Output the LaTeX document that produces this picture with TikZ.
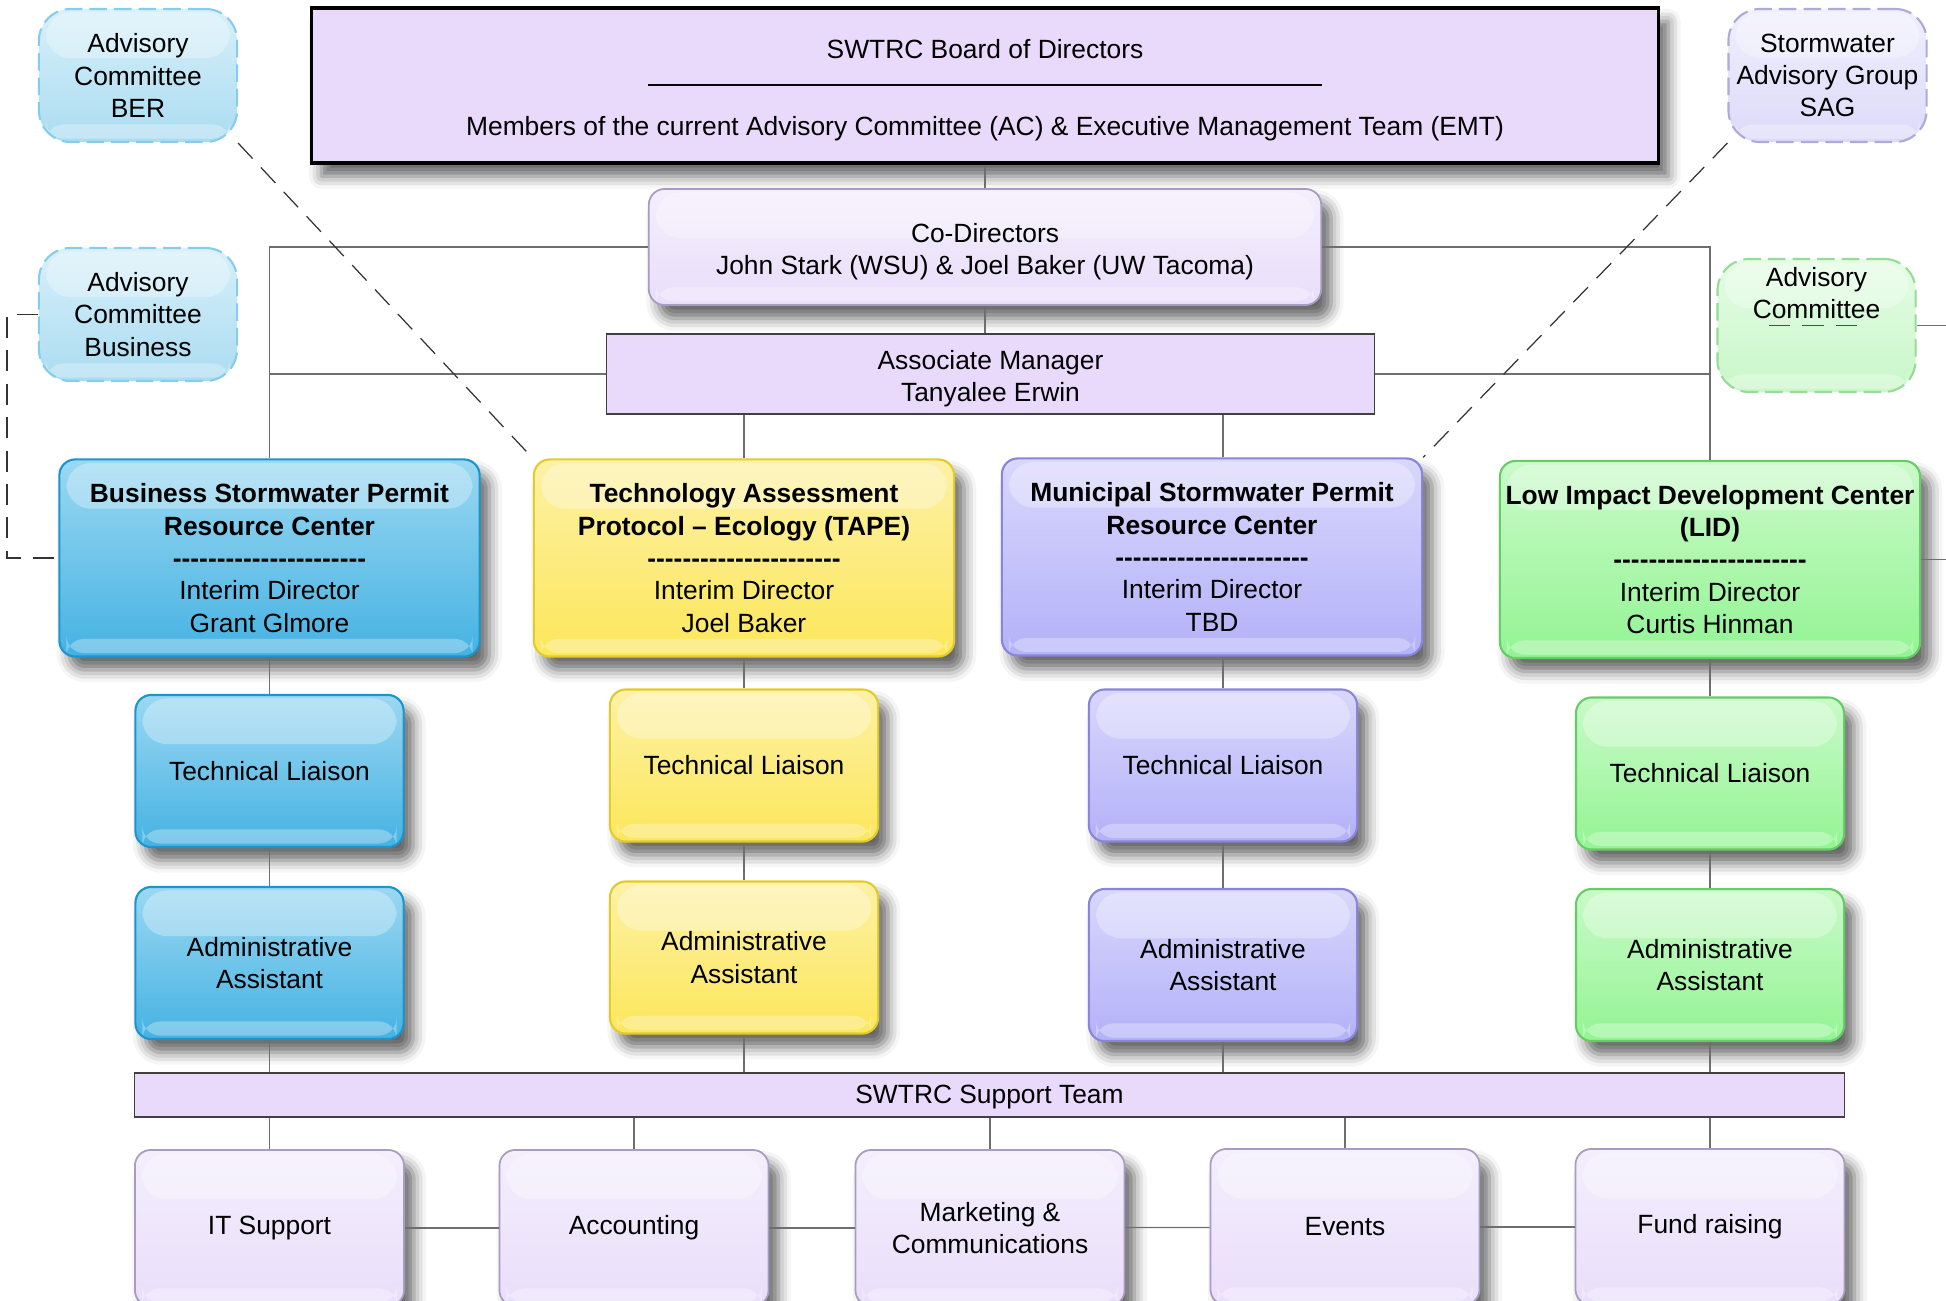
\documentclass[tikz,border=0pt]{standalone}
\usepackage{fontspec}
\setmainfont{Liberation Sans}
\usepackage{tikz}
\usepackage{color}
\usetikzlibrary{shadows.blur}

\definecolor{lav}{HTML}{E9DAFC}
\definecolor{lavtop}{HTML}{F4EEFD}
\definecolor{lavbot}{HTML}{E9DEFA}
\definecolor{lavline}{HTML}{A89CC0}
\definecolor{bluebase}{HTML}{45B2E2}
\definecolor{bluetop}{HTML}{9BD8F2}
\definecolor{blueline}{HTML}{1C95CC}
\definecolor{yelbase}{HTML}{FCE75A}
\definecolor{yeltop}{HTML}{FDF1A6}
\definecolor{yelline}{HTML}{E2CB2C}
\definecolor{purbase}{HTML}{B3B1F8}
\definecolor{purtop}{HTML}{D9D7FC}
\definecolor{purline}{HTML}{8985DC}
\definecolor{grnbase}{HTML}{93F493}
\definecolor{grntop}{HTML}{C9FAC9}
\definecolor{grnline}{HTML}{67CC67}
\definecolor{advblue}{HTML}{AADCF1}
\definecolor{advbluetop}{HTML}{D8F0FA}
\definecolor{advblueline}{HTML}{86CDEB}
\definecolor{advpur}{HTML}{DCDAF9}
\definecolor{advpurtop}{HTML}{F0EFFD}
\definecolor{advpurline}{HTML}{ADAADA}
\definecolor{advgrn}{HTML}{C8F7C8}
\definecolor{advgrntop}{HTML}{E5FCE5}
\definecolor{advgrnline}{HTML}{96DC96}
\definecolor{wire}{HTML}{6E6E6E}

\newcommand{\dashrow}{\textbf{\foreach \k in {1,...,22}{\mbox{-}}}}
\newcommand{\lift}{\rule{0pt}{8.2pt}}

\begin{document}
\begin{tikzpicture}[x=0.01cm,y=-0.01cm,
  every node/.style={font=\fontsize{7.5}{9.2}\selectfont, align=center, inner sep=0pt},
  wire/.style={draw=wire, line width=0.35pt},
  dashwire/.style={draw=black!80, line width=0.35pt, dash pattern=on 6pt off 3.5pt},
  gloss/.style={path picture={
    \fill[white,opacity=.3,rounded corners=7pt] ([xshift=2pt,yshift=-1pt]path picture bounding box.north west) rectangle ([xshift=-2pt,yshift=-14pt]path picture bounding box.north east);
    \fill[white,opacity=.3,rounded corners=5pt] ([xshift=2pt,yshift=5pt]path picture bounding box.south west) rectangle ([xshift=-2pt,yshift=1pt]path picture bounding box.south east);}},
  shade/.style={blur shadow={shadow xshift=2.8pt, shadow yshift=-3.8pt, shadow blur radius=3.5pt, shadow opacity=60}},
  box/.style={rounded corners=4.5pt, line width=0.6pt, shade, gloss},
  bluebox/.style={box, draw=blueline, top color=bluetop, bottom color=bluebase},
  yelbox/.style={box, draw=yelline, top color=yeltop, bottom color=yelbase},
  purbox/.style={box, draw=purline, top color=purtop, bottom color=purbase},
  grnbox/.style={box, draw=grnline, top color=grntop, bottom color=grnbase},
  lavbox/.style={box, line width=0.5pt, draw=lavline, top color=lavtop, bottom color=lavbot},
  advbox/.style={rounded corners=9pt, line width=0.6pt, dash pattern=on 5pt off 2pt, gloss,
    minimum width=1.98cm, minimum height=1.33cm},
  bar/.style={draw=black!75, line width=0.4pt, fill=lav},
  centerbox/.style={minimum width=4.2cm, minimum height=1.97cm},
  smallbox/.style={minimum width=2.68cm, minimum height=1.52cm}]

\useasboundingbox (0,0) rectangle (1946,1301);
\clip (0,0) rectangle (1946,1301);

\node[draw=black, line width=1pt, fill=lav, shade, minimum width=13.46cm, minimum height=1.55cm] (board) at (985,85.5)
  {\lift SWTRC Board of Directors\\[1.75pt]\rule[3.1pt]{6.74cm}{0.6pt}\\[1.75pt]Members of the current Advisory Committee (AC) \& Executive Management Team (EMT)};
\node[lavbox, minimum width=6.72cm, minimum height=1.16cm] (codir) at (985,247) {\lift Co-Directors\\John Stark (WSU) \& Joel Baker (UW Tacoma)};
\node[bar, minimum width=7.67cm, minimum height=0.8cm] (assoc) at (990.5,374) {\lift Associate Manager\\Tanyalee Erwin};

\node[advbox, draw=advblueline, top color=advbluetop, bottom color=advblue] (beradv) at (138,75.5) {Advisory\\Committee\\BER};
\node[advbox, draw=advblueline, top color=advbluetop, bottom color=advblue] (bizadv) at (138,314.5) {Advisory\\Committee\\Business};
\node[advbox, draw=advpurline, top color=advpurtop, bottom color=advpur] (sag) at (1827.5,75.5) {Stormwater\\Advisory Group\\SAG};
\node[advbox, draw=advgrnline, top color=advgrntop, bottom color=advgrn] (lidadv) at (1816.5,325.5) {Advisory\\Committee\\\mbox{}\\\mbox{}};

\node[bluebox, centerbox] (bsp) at (269.5,558) {\textbf{Business Stormwater Permit}\\\textbf{Resource Center}\\\dashrow\\Interim Director\\Grant Glmore};
\node[yelbox, centerbox] (tape) at (744,558) {\textbf{Technology Assessment}\\\textbf{Protocol – Ecology (TAPE)}\\\dashrow\\Interim Director\\Joel Baker};
\node[purbox, centerbox] (msp) at (1212,557) {\textbf{Municipal Stormwater Permit}\\\textbf{Resource Center}\\\dashrow\\Interim Director\\TBD};
\node[grnbox, centerbox] (lid) at (1710,559.5) {\textbf{Low Impact Development Center}\\\textbf{(LID)}\\\dashrow\\Interim Director\\Curtis Hinman};

\node[bluebox, smallbox] (btech) at (269.5,771) {Technical Liaison};
\node[yelbox, smallbox] (ytech) at (744,765.5) {Technical Liaison};
\node[purbox, smallbox] (mtech) at (1223,765.5) {Technical Liaison};
\node[grnbox, smallbox] (gtech) at (1710,773.5) {Technical Liaison};

\node[bluebox, smallbox] (badm) at (269.5,963) {Administrative\\Assistant};
\node[yelbox, smallbox] (yadm) at (744,957.5) {Administrative\\Assistant};
\node[purbox, smallbox] (madm) at (1223,965) {Administrative\\Assistant};
\node[grnbox, smallbox] (gadm) at (1710,965) {Administrative\\Assistant};

\node[bar, minimum width=17.09cm, minimum height=0.44cm] (team) at (989.5,1095) {\rule{0pt}{6.5pt}SWTRC Support Team};

\node[lavbox, minimum width=2.69cm, minimum height=1.56cm] (it) at (269.5,1228) {IT Support};
\node[lavbox, minimum width=2.69cm, minimum height=1.56cm] (acct) at (634,1228) {Accounting};
\node[lavbox, minimum width=2.69cm, minimum height=1.56cm] (mkt) at (990,1228) {Marketing \&\\Communications};
\node[lavbox, minimum width=2.69cm, minimum height=1.56cm] (evt) at (1345,1227) {Events};
\node[lavbox, minimum width=2.69cm, minimum height=1.56cm] (fund) at (1710,1227) {Fund raising};

\draw[wire] (board) -- (codir);
\draw[wire] (codir.south) -- (codir.south |- assoc.north);
\draw[wire] (codir.west) -| (bsp.north);
\draw[wire] (codir.east) -| (lid.north);
\draw[wire] (assoc.west) -- (assoc.west -| bsp.north);
\draw[wire] (assoc.east) -- (assoc.east -| lid.north);
\draw[wire] (assoc.south -| tape.north) -- (tape.north);
\draw[wire] (assoc.south -| mtech.north) -- (mtech.north |- msp.north);

\foreach \c/\t/\a in {bsp/btech/badm, tape/ytech/yadm, msp/mtech/madm, lid/gtech/gadm} {
  \draw[wire] (\t.north |- \c.south) -- (\t.north);
  \draw[wire] (\t) -- (\a);
  \draw[wire] (\a) -- (\a.south |- team.north);
}
\foreach \s in {it,acct,mkt,evt,fund}
  \draw[wire] (team.south -| \s.north) -- (\s.north);
\foreach \p/\q in {it/acct, acct/mkt, mkt/evt, evt/fund}
  \draw[wire] (\p) -- (\q);

\draw[dashwire] (beradv.south east) -- (tape.north west);
\draw[dashwire] (sag.south west) -- (msp.north east);
\draw[dashwire] (bizadv.west) -- ++(-31,0) |- (bsp.west);
\draw[wire] (lidadv.east) -- ++(45,0) |- (lid.east);
\draw[dashwire, draw=black!70] ([xshift=-13.5pt]lidadv.center) -- ([xshift=14pt]lidadv.center);
\end{tikzpicture}
\end{document}
